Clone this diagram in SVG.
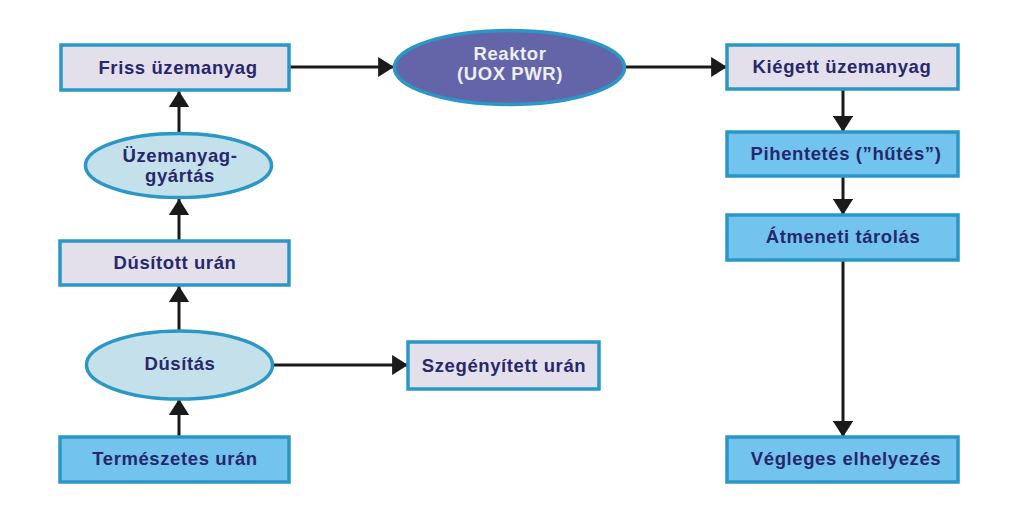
<svg xmlns="http://www.w3.org/2000/svg" width="1023" height="522" viewBox="0 0 1023 522">
<defs>
<style>
.box{stroke:#2a97c6;stroke-width:3.5}
.light{fill:#e3e0eb}
.blue{fill:#72c4ef}
.ell{fill:#c4e0ea;stroke:#2a97c6;stroke-width:3.5}
.reak{fill:#6464a9;stroke:#2a97c6;stroke-width:3.5}
.t{font-family:"Liberation Sans",Arial,sans-serif;font-weight:bold;font-size:18.5px;letter-spacing:0.6px;fill:#27286c;text-anchor:middle}
.tw{fill:#eeeef6}
.c{stroke:#1a1a1a;stroke-width:3;fill:none;marker-end:url(#ah)}
</style>
<marker id="ah" viewBox="0 0 10 10" preserveAspectRatio="none" refX="10" refY="5" markerWidth="5.3" markerHeight="6.7" orient="auto" markerUnits="strokeWidth">
<path d="M0,0 L10,5 L0,10 z" fill="#1a1a1a"/>
</marker>
</defs>
<rect width="1023" height="522" fill="#ffffff"/>
<g id="connectors">
<line class="c" x1="289" y1="67" x2="394" y2="67"/>
<line class="c" x1="625" y1="67" x2="727" y2="67"/>
<line class="c" x1="179" y1="133" x2="179" y2="91"/>
<line class="c" x1="179" y1="241" x2="179" y2="199"/>
<line class="c" x1="179" y1="331" x2="179" y2="286"/>
<line class="c" x1="179" y1="437" x2="179" y2="399"/>
<line class="c" x1="273" y1="365" x2="408" y2="365"/>
<line class="c" x1="843" y1="89" x2="843" y2="132"/>
<line class="c" x1="843" y1="176" x2="843" y2="215"/>
<line class="c" x1="843" y1="260" x2="843" y2="437"/>
</g>
<g id="friss">
<rect class="box light" x="61" y="45" width="228" height="45"/>
<text class="t" x="178" y="74">Friss üzemanyag</text>
</g>
<g id="reaktor">
<ellipse class="reak" cx="509.5" cy="67.5" rx="115" ry="37"/>
<text class="t tw" x="510" y="60">Reaktor</text>
<text class="t tw" x="510" y="80">(UOX PWR)</text>
</g>
<g id="kiegett">
<rect class="box light" x="727" y="45" width="231" height="44"/>
<text class="t" x="842" y="73">Kiégett üzemanyag</text>
</g>
<g id="pihentetes">
<rect class="box blue" x="727" y="132" width="231" height="44"/>
<text class="t" x="846" y="160">Pihentetés (”hűtés”)</text>
</g>
<g id="atmeneti">
<rect class="box blue" x="727" y="215" width="231" height="45"/>
<text class="t" x="843" y="243">Átmeneti tárolás</text>
</g>
<g id="vegleges">
<rect class="box blue" x="727" y="437" width="231" height="45"/>
<text class="t" x="846" y="465">Végleges elhelyezés</text>
</g>
<g id="gyartas">
<ellipse class="ell" cx="178.5" cy="165.5" rx="93" ry="32"/>
<text class="t" x="180" y="162">Üzemanyag-</text>
<text class="t" x="180" y="182">gyártás</text>
</g>
<g id="dusitott">
<rect class="box light" x="60" y="241" width="229" height="44"/>
<text class="t" x="175" y="269">Dúsított urán</text>
</g>
<g id="dusitas">
<ellipse class="ell" cx="179.5" cy="365" rx="93" ry="34"/>
<text class="t" x="180" y="370">Dúsítás</text>
</g>
<g id="szegenyitett">
<rect class="box light" x="408" y="342" width="191" height="47"/>
<text class="t" x="504" y="372">Szegényített urán</text>
</g>
<g id="termeszetes">
<rect class="box blue" x="60" y="437" width="229" height="45"/>
<text class="t" x="175" y="465">Természetes urán</text>
</g>
</svg>
